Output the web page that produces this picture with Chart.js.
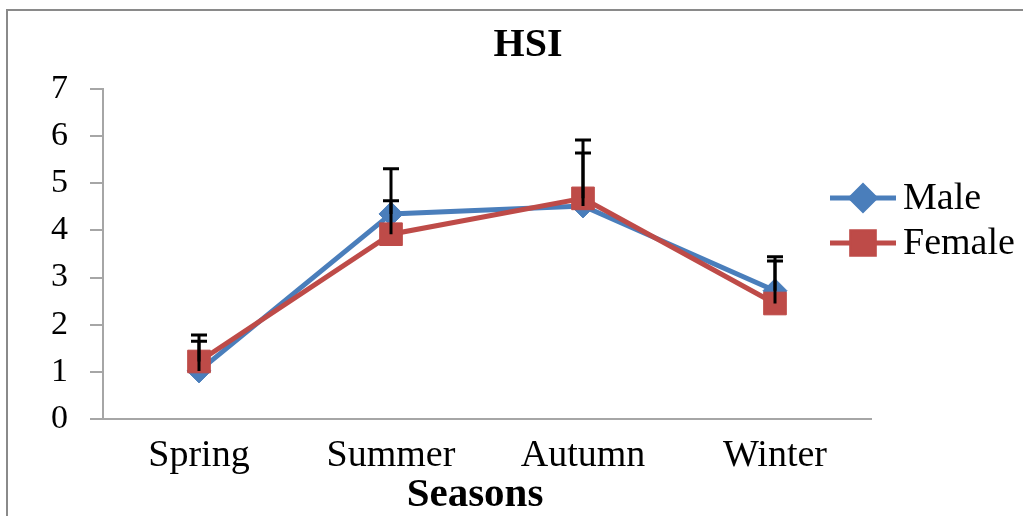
<!DOCTYPE html>
<html lang="en">
<head>
  <meta charset="UTF-8">
  <title>HSI</title>
  <style>
    body { margin: 0; background: #fff; }
  </style>
</head>
<body>
  <canvas id="myChart" width="1023" height="516"></canvas>

  <script src="https://cdn.jsdelivr.net/npm/chart.js"></script>
  <script>
    // data
    const seasons = ['Spring', 'Summer', 'Autumn', 'Winter'];
    const yTicks = [0, 1, 2, 3, 4, 5, 6, 7];
    const maleData = [1.02, 4.35, 4.52, 2.72];
    const femaleData = [1.22, 3.92, 4.68, 2.45];
    // upper error bars only
    const maleErr = [0.63, 0.96, 1.12, 0.72];
    const femaleErr = [0.56, 0.71, 1.24, 0.90];

    const serif = "'Liberation Serif', 'Times New Roman', serif";
    const blue = '#4A7EBB';
    const red = '#BE4B48';

    // frame, title, axis title, error bars and legend
    const extras = {
      id: 'extras',
      beforeDraw(chart) {
        const ctx = chart.ctx;
        ctx.save();
        ctx.strokeStyle = '#8a8a8a';
        ctx.lineWidth = 2;
        ctx.beginPath();
        ctx.moveTo(1024, 10);
        ctx.lineTo(7, 10);
        ctx.lineTo(7, 517);
        ctx.stroke();
        ctx.restore();
      },
      afterDatasetsDraw(chart) {
        const ctx = chart.ctx;
        const x = chart.scales.x, y = chart.scales.y;
        ctx.save();
        ctx.strokeStyle = '#000';
        ctx.lineWidth = 3;
        const bars = [[maleData, maleErr], [femaleData, femaleErr]];
        bars.forEach(([vals, errs]) => {
          vals.forEach((v, i) => {
            const px = x.getPixelForValue(i);
            const y0 = y.getPixelForValue(v);
            const y1 = y.getPixelForValue(v + errs[i]);
            ctx.beginPath();
            ctx.moveTo(px, y0);
            ctx.lineTo(px, y1);
            ctx.moveTo(px - 8, y1);
            ctx.lineTo(px + 8, y1);
            ctx.stroke();
          });
        });
        ctx.restore();
      },
      afterDraw(chart) {
        const ctx = chart.ctx;
        ctx.save();
        ctx.fillStyle = '#000';
        ctx.textAlign = 'center';
        ctx.textBaseline = 'middle';
        ctx.font = 'bold 40px ' + serif;
        ctx.fillText('HSI', 528, 46);
        ctx.font = 'bold 41px ' + serif;
        ctx.fillText('Seasons', 475, 495);

        // legend
        const items = [['Male', blue, 'rectRot', 198], ['Female', red, 'rect', 243]];
        items.forEach(([label, col, style, ly]) => {
          ctx.strokeStyle = col;
          ctx.lineWidth = 5;
          ctx.beginPath();
          ctx.moveTo(830, ly);
          ctx.lineTo(896, ly);
          ctx.stroke();
          ctx.fillStyle = col;
          Chart.helpers.drawPoint(ctx, {pointStyle: style, radius: style === 'rect' ? 16 : 12, borderWidth: 1}, 863, ly);
          ctx.fill();
          ctx.fillStyle = '#000';
          ctx.textAlign = 'left';
          ctx.font = '38px ' + serif;
          ctx.fillText(label, 903, ly + 1);
        });
        ctx.restore();
      }
    };

    const data = {
      labels: seasons,
      datasets: [
        {
          label: 'Male',
          data: maleData,
          borderColor: blue,
          backgroundColor: blue,
          borderWidth: 5,
          pointStyle: 'rectRot',
          pointRadius: 12,
          pointBorderWidth: 1,
          tension: 0,
          order: 1
        },
        {
          label: 'Female',
          data: femaleData,
          borderColor: red,
          backgroundColor: red,
          borderWidth: 5,
          pointStyle: 'rect',
          pointRadius: 16,
          pointBorderWidth: 1,
          tension: 0,
          order: 0
        }
      ]
    };

    const config = {
      type: 'line',
      data,
      plugins: [extras],
      options: {
        responsive: false,
        animation: false,
        devicePixelRatio: 1,
        layout: { padding: { left: 0, top: 89, right: 152, bottom: 0 } },
        plugins: {
          legend: { display: false },
          tooltip: { enabled: false }
        },
        scales: {
          x: {
            offset: true,
            grid: { display: false },
            border: { display: true, color: '#a6a6a6', width: 2 },
            ticks: { color: '#000', font: { family: serif, size: 38 }, padding: 6, maxRotation: 0 },
            afterFit(scale) { scale.height = 97; }
          },
          y: {
            min: 0,
            max: 7,
            afterBuildTicks(scale) { scale.ticks = yTicks.map(v => ({ value: v })); },
            grid: { drawOnChartArea: false, drawTicks: true, tickLength: 13, color: '#a6a6a6', lineWidth: 2 },
            border: { display: true, color: '#a6a6a6', width: 2 },
            ticks: { color: '#000', font: { family: serif, size: 34 }, padding: 22 },
            afterFit(scale) { scale.width = 103; }
          }
        }
      }
    };

    const myChart = new Chart(document.getElementById('myChart'), config);
  </script>
</body>
</html>
